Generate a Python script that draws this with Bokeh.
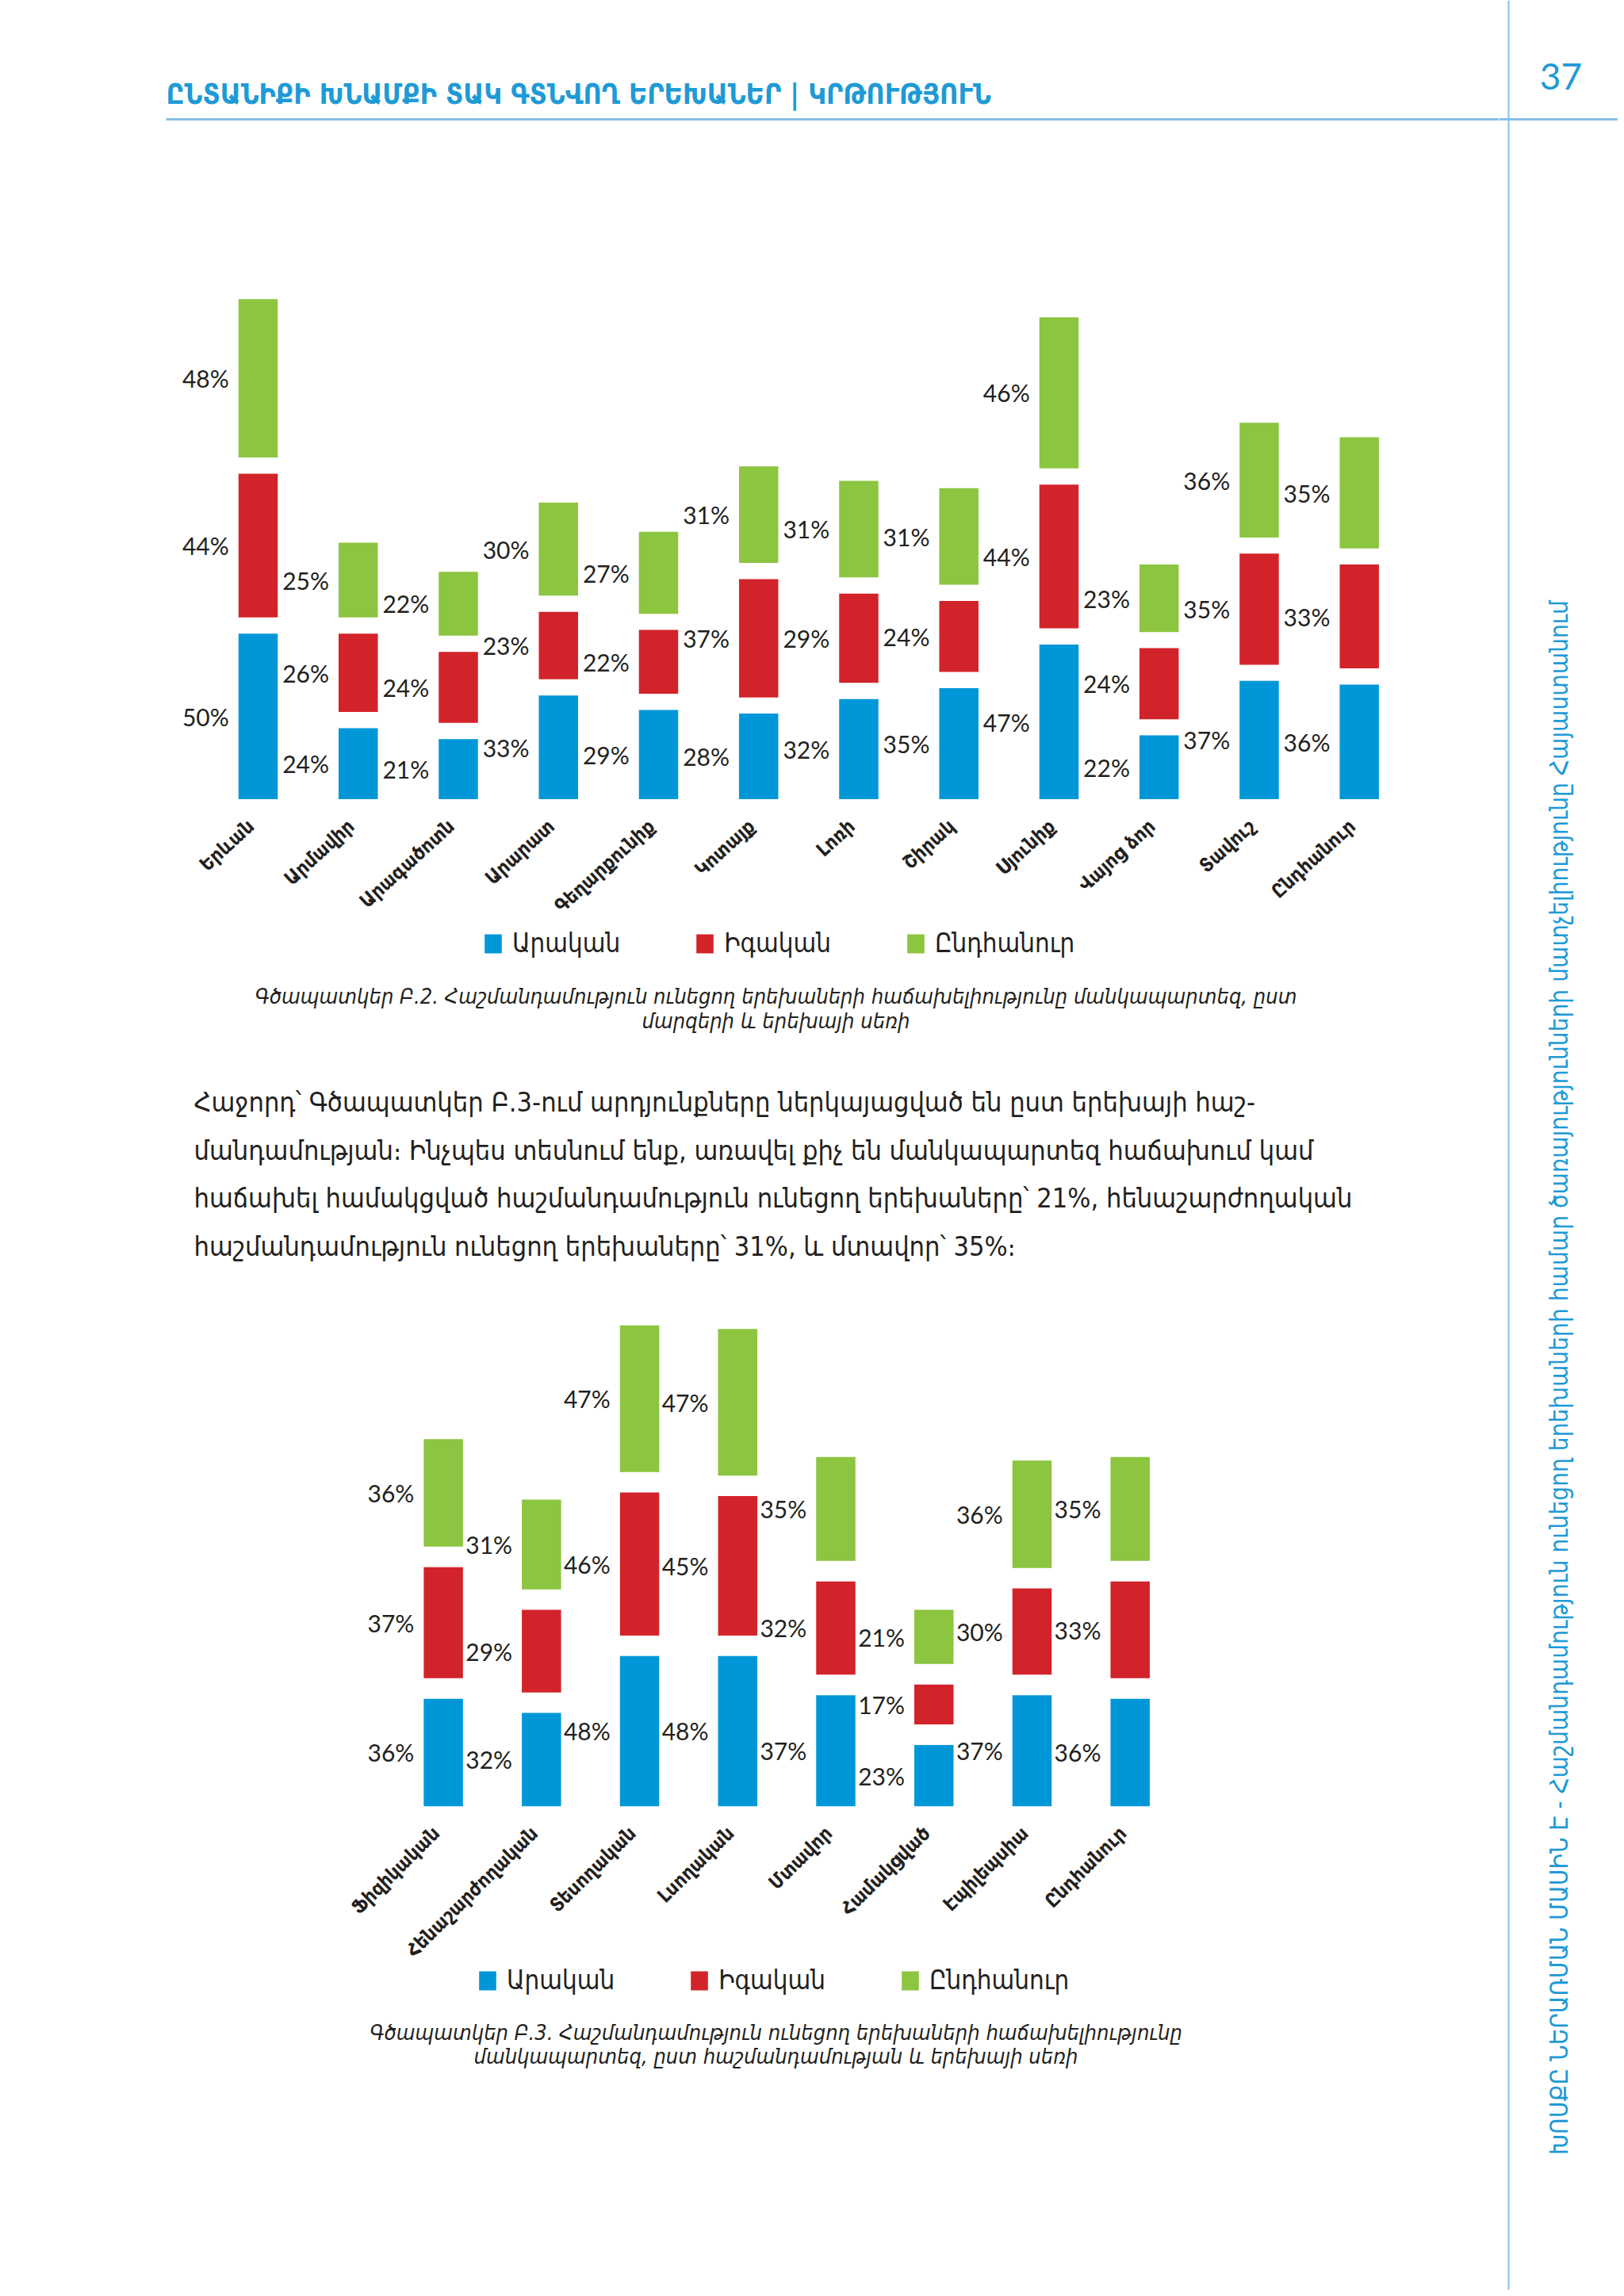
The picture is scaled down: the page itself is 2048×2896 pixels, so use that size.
import numpy as np
from bokeh.plotting import figure
from bokeh.layouts import row, column
from bokeh.models import Range1d, FactorRange, ColumnDataSource, Legend, LegendItem
from bokeh.transform import dodge
from bokeh.core.properties import value
from bokeh.embed import file_html
from bokeh.resources import INLINE

# ------------------------------------------------------------------ data
regions = ["Երևան", "Արմավիր", "Արագածոտն", "Արարատ", "Գեղարքունիք", "Կոտայք",
           "Լոռի", "Շիրակ", "Սյունիք", "Վայոց ձոր", "Տավուշ", "Ընդհանուր"]
reg_boys = [50, 24, 21, 33, 29, 28, 32, 35, 47, 22, 37, 36]
reg_girls = [44, 26, 24, 23, 22, 37, 29, 24, 44, 24, 35, 33]
reg_total = [48, 25, 22, 30, 27, 31, 31, 31, 46, 23, 36, 35]

dis_types = ["Ֆիզիկական", "Հենաշարժողական", "Տեսողական", "Լսողական", "Մտավոր",
             "Համակցված", "Էպիլեպսիա", "Ընդհանուր"]
dis_boys = [36, 32, 48, 48, 37, 23, 37, 36]
dis_girls = [37, 29, 46, 45, 32, 17, 30, 33]
dis_total = [36, 31, 47, 47, 35, 21, 36, 35]

series_names = ["Արական", "Իգական", "Ընդհանուր"]

header_title = "ԸՆՏԱՆԻՔԻ ԽՆԱՄՔԻ ՏԱԿ ԳՏՆՎՈՂ ԵՐԵԽԱՆԵՐ | ԿՐԹՈՒԹՅՈՒՆ"
page_number = "37"
side_text = ("ԽՈՍՔԸ ՆԵՐԱՌՄԱՆ ՄԱՍԻՆ Է - Հաշմանդամություն ունեցող երեխաների համար "
             "ծառայությունների մատչելիությունը Հայաստանում")
caption1 = ["Գծապատկեր Բ.2. Հաշմանդամություն ունեցող երեխաների հաճախելիությունը մանկապարտեզ, ըստ",
            "մարզերի և երեխայի սեռի"]
caption2 = ["Գծապատկեր Բ.3. Հաշմանդամություն ունեցող երեխաների հաճախելիությունը",
            "մանկապարտեզ, ըստ հաշմանդամության և երեխայի սեռի"]
paragraph = ["Հաջորդ՝ Գծապատկեր Բ.3-ում արդյունքները ներկայացված են ըստ երեխայի հաշ-",
             "մանդամության։ Ինչպես տեսնում ենք, առավել քիչ են մանկապարտեզ հաճախում կամ",
             "հաճախել համակցված հաշմանդամություն ունեցող երեխաները՝ 21%, հենաշարժողական",
             "հաշմանդամություն ունեցող երեխաները՝ 31%, և մտավոր՝ 35%։"]

# ------------------------------------------------------------------ style
BLUE, RED, GREEN = "#0097d8", "#d2232b", "#8cc540"
INK = "#231f20"
HEAD = "#1e9ad6"
RULE = "#86c0e8"
ARM = "'DejaVu Sans Condensed', 'DejaVu Sans'"
NUM = "Lato"
CW = 0.9   # width ratio of the condensed face, used to scale the Armenian font sizes

PX0, PY0, PX1, PY1 = 0, 0, 2040, 2888   # drawable page area (page pixels)
SPLIT = 1890                            # left column / right strip boundary


def fs(px):
    return f"{px / CW:.1f}px"


def bare(p):
    p.outline_line_color = None
    p.background_fill_color = "white"
    p.border_fill_color = "white"
    return p


def page_fig(x0, y0, x1, y1):
    """Figure whose data coordinates are page pixels."""
    return bare(figure(width=x1 - x0, height=y1 - y0, output_backend="svg",
                       toolbar_location=None, x_range=Range1d(x0, x1),
                       y_range=Range1d(y1, y0), x_axis_type=None, y_axis_type=None,
                       min_border=0))


def chart_fig(cats, boys, girls, total, y0, y1, first_c, last_c, zero_px, k, gap_px,
              label_angle, cat_dy, legend_bottom, legend_left):
    n = len(cats)
    w = SPLIT - PX0
    s = (last_c - first_c) / (n - 1)          # px per category
    pad = (w / s - n) / 2                     # applied on each side
    shift = ((first_c + last_c) / 2 - (PX0 + w / 2)) / s
    xr = FactorRange(factors=cats, range_padding=pad, range_padding_units="absolute")
    start = -(y1 - zero_px) / k
    yr = Range1d(start, start + (y1 - y0) / k)
    p = bare(figure(width=w, height=y1 - y0, output_backend="svg", toolbar_location=None,
                    x_range=xr, y_range=yr, x_axis_type=None, y_axis_type=None,
                    min_border=0))
    b = np.array(boys, float)
    g = np.array(girls, float)
    t = np.array(total, float)
    hg = gap_px / k / 2
    src = ColumnDataSource(dict(
        cat=cats,
        b0=0 * b + hg, b1=b - hg,
        g0=b + hg, g1=b + g - hg,
        t0=b + g + hg, t1=b + g + t - hg,
        bm=b / 2, gm=b + g / 2, tm=b + g + t / 2,
        bl=[f"{v}%" for v in boys], gl=[f"{v}%" for v in girls],
        tl=[f"{v}%" for v in total],
        zero=0 * b,
    ))
    X = dodge("cat", shift, range=xr)
    bw = 49.5 / s
    rb = p.vbar(x=X, width=bw, bottom="b0", top="b1", fill_color=BLUE, line_color=None, source=src)
    rg = p.vbar(x=X, width=bw, bottom="g0", top="g1", fill_color=RED, line_color=None, source=src)
    rt = p.vbar(x=X, width=bw, bottom="t0", top="t1", fill_color=GREEN, line_color=None, source=src)
    for ycol, tcol in (("bm", "bl"), ("gm", "gl"), ("tm", "tl")):
        p.text(x=X, y=ycol, text=tcol, x_offset=-(49.5 / 2 + 12), text_align="right",
               text_baseline="middle", text_font=value(NUM), text_font_size="30px",
               text_color=INK, source=src)
    p.text(x=X, y="zero", text="cat", angle=label_angle, x_offset=-9, y_offset=cat_dy,
           text_align="right", text_baseline="middle", text_font=value(ARM),
           text_font_style="bold", text_font_size=fs(22), text_color=INK, source=src)
    leg = Legend(items=[LegendItem(label=series_names[0], renderers=[rb]),
                        LegendItem(label=series_names[1], renderers=[rg]),
                        LegendItem(label=series_names[2], renderers=[rt])],
                 orientation="horizontal",
                 location=(legend_left - PX0, y1 - legend_bottom),
                 glyph_width=27, glyph_height=30, label_standoff=11, spacing=93,
                 padding=0, margin=0, border_line_color=None, background_fill_alpha=0,
                 label_text_font=ARM, label_text_font_size=fs(29.5), label_text_color=INK)
    p.add_layout(leg, "center")
    return p


# ------------------------------------------------------------------ header
top = page_fig(PX0, PY0, SPLIT, 300)
top.segment(x0=[209], y0=[150], x1=[SPLIT], y1=[150], line_color=RULE, line_width=3)
top.text(x=[209], y=[118], text=[header_title], text_font=value(ARM), text_font_style="bold",
         text_font_size=fs(32), text_color=HEAD, text_baseline="middle", text_align="left")

# ------------------------------------------------------------------ chart 1
c1 = chart_fig(regions, reg_boys, reg_girls, reg_total, 300, 1230,
               first_c=325.0, last_c=1713.7, zero_px=1017.8, k=4.586, gap_px=20.4,
               label_angle=0.74, cat_dy=20, legend_bottom=1209, legend_left=608)

# ------------------------------------------------------------------ caption 1 + paragraph
mid = page_fig(PX0, 1230, SPLIT, 1650)
mid.text(x=[978, 978], y=[1256, 1287], text=caption1, text_font=value(ARM),
         text_font_style="italic", text_font_size=fs(24.4), text_color=INK,
         text_baseline="middle", text_align="center")
mid.text(x=[244] * len(paragraph), y=[1389, 1450, 1510, 1571], text=paragraph,
         text_font=value(ARM), text_font_size=fs(30.7), text_color=INK,
         text_baseline="middle", text_align="left")

# ------------------------------------------------------------------ chart 2
c2 = chart_fig(dis_types, dis_boys, dis_girls, dis_total, 1650, 2540,
               first_c=558.6, last_c=1424.7, zero_px=2290.6, k=4.484, gap_px=25.9,
               label_angle=0.78, cat_dy=17, legend_bottom=2517, legend_left=601)

# ------------------------------------------------------------------ caption 2
bot = page_fig(PX0, 2540, SPLIT, PY1)
bot.text(x=[978, 978], y=[2563, 2593], text=caption2, text_font=value(ARM),
         text_font_style="italic", text_font_size=fs(24.4), text_color=INK,
         text_baseline="middle", text_align="center")

# ------------------------------------------------------------------ right strip
side = page_fig(SPLIT, PY0, PX1, PY1)
side.segment(x0=[SPLIT], y0=[150], x1=[PX1], y1=[150], line_color=RULE, line_width=3)
side.segment(x0=[1902], y0=[PY0], x1=[1902], y1=[PY1], line_color=RULE, line_width=2)
side.text(x=[1968], y=[96], text=[page_number], text_font=value(NUM), text_font_size="46px",
          text_color=HEAD, text_baseline="middle", text_align="center")
side.text(x=[1965], y=[1737], text=[side_text], text_font=value(ARM), text_font_size=fs(28.2),
          text_color=HEAD, text_baseline="middle", text_align="center", angle=np.pi / 2)

layout = row(column(top, c1, mid, c2, bot), side)
open("out.html", "w").write(file_html(layout, INLINE))
